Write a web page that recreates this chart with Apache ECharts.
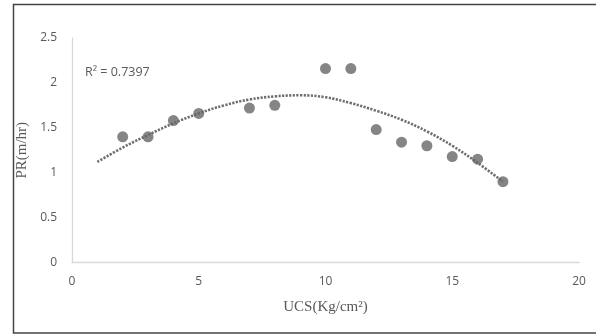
<!DOCTYPE html>
<html>
<head>
<meta charset="utf-8">
<script src="https://cdn.jsdelivr.net/npm/echarts@6/dist/echarts.min.js"></script>
<style>
  html, body { margin: 0; padding: 0; background: #fff; }
  #chart { width: 596px; height: 336px; }
</style>
</head>
<body>
<div id="chart"></div>
<script>
// measured points (UCS, PR)
var ucs = [2, 3, 4, 5, 7, 8, 10, 11, 12, 13, 14, 15, 16, 17];
var pr = [1.4, 1.4, 1.58, 1.66, 1.72, 1.75, 2.16, 2.16, 1.48, 1.34, 1.3, 1.18, 1.15, 0.9];

// polynomial trendline
var trendX = [1, 2, 3, 4, 5, 6, 7, 8, 9, 10, 11, 12, 13, 14, 15, 16, 17];
var trendY = [1.12, 1.28, 1.42, 1.55, 1.66, 1.75, 1.815, 1.85, 1.862, 1.84, 1.775, 1.69, 1.59, 1.46, 1.3, 1.11, 0.9];

var r2Label = 'R² = 0.7397';

var chart = echarts.init(document.getElementById('chart'));

var points = ucs.map(function (x, i) { return [x, pr[i]]; });
var trend = trendX.map(function (x, i) { return [x, trendY[i]]; });

chart.setOption({
    animation: false,
    grid: {
        left: 72,
        right: 17,
        top: 38,
        bottom: 73.5
    },
    xAxis: {
        type: 'value',
        min: 0,
        max: 20,
        interval: 5,
        name: 'UCS(Kg/cm²)',
        nameLocation: 'middle',
        nameGap: 37,
        nameTextStyle: {
            fontFamily: 'Liberation Serif',
            fontSize: 15,
            color: '#595959'
        },
        axisLine: { lineStyle: { color: '#d9d9d9', width: 1.3 } },
        axisTick: { show: false },
        splitLine: { show: false },
        axisLabel: {
            margin: 13,
            fontFamily: 'Open Sans',
            fontSize: 12,
            color: '#595959'
        }
    },
    yAxis: {
        type: 'value',
        min: 0,
        max: 2.5,
        interval: 0.5,
        name: 'PR(m/hr)',
        nameLocation: 'middle',
        nameGap: 40,
        nameTextStyle: {
            fontFamily: 'Liberation Serif',
            fontSize: 15,
            color: '#595959'
        },
        axisLine: { show: true, lineStyle: { color: '#d9d9d9', width: 1.3 } },
        axisTick: { show: false },
        splitLine: { show: false },
        axisLabel: {
            margin: 15,
            fontFamily: 'Open Sans',
            fontSize: 12,
            color: '#595959'
        }
    },
    series: [
        {
            name: 'trend',
            type: 'line',
            data: trend,
            smooth: 0.4,
            showSymbol: false,
            lineStyle: {
                color: '#6d6d6d',
                width: 2.6,
                type: [2.2, 1.4]
            },
            z: 2
        },
        {
            name: 'PR',
            type: 'scatter',
            data: points,
            symbolSize: 11,
            itemStyle: { color: '#666666' },
            z: 3
        }
    ],
    graphic: [
        {
            type: 'rect',
            shape: { x: 13.5, y: 4.5, width: 600, height: 328.5 },
            style: { fill: 'none', stroke: '#444', lineWidth: 1.5 },
            silent: true
        },
        {
            type: 'text',
            left: 85,
            top: 66,
            style: {
                text: r2Label,
                fontFamily: 'Open Sans',
                fontSize: 12.5,
                fill: '#595959'
            }
        }
    ]
});
</script>
</body>
</html>
